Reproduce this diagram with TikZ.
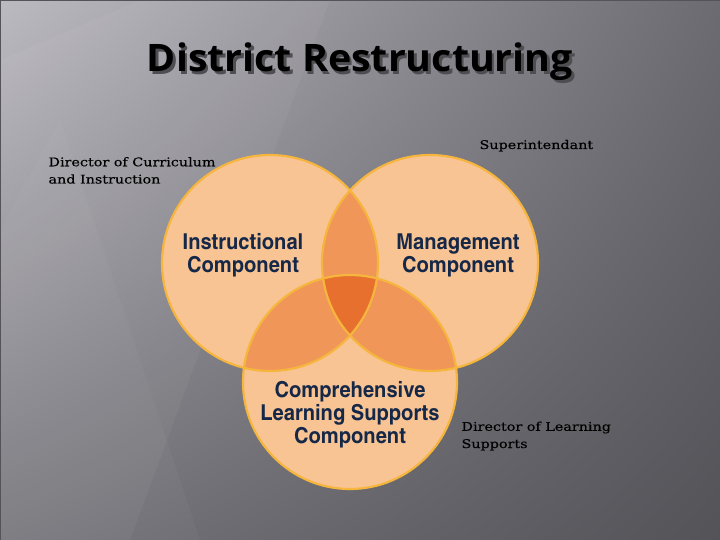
\documentclass[tikz,border=0pt]{standalone}
\usepackage{fontspec}
\setmainfont{Liberation Serif}
\newfontfamily\titlefont[FakeStretch=1.04]{Open Sans}
\newfontfamily\compfont[FakeStretch=1.12]{texgyreheroscn-bold.otf}
\newfontfamily\labelfont[FakeStretch=1.2,FakeBold=0.4]{DejaVu Serif}
\usepackage{tikz}
\usetikzlibrary{shadings}

\definecolor{bgA}{RGB}{188,186,193}
\definecolor{bgB}{RGB}{108,107,113}
\definecolor{bgC}{RGB}{118,117,123}
\definecolor{bgD}{RGB}{84,83,88}
\definecolor{peach}{RGB}{248,196,148}
\definecolor{lens}{RGB}{240,150,88}
\definecolor{core}{RGB}{232,112,46}
\definecolor{rim}{RGB}{246,182,62}
\definecolor{navy}{RGB}{22,40,72}
\definecolor{dropgray}{RGB}{78,78,82}

\newcommand{\dropped}[1]{\makebox[0pt][l]{\hspace{2.5bp}\raisebox{-2.8bp}{\color{dropgray}#1}}#1}

\tikzset{
  comp/.style={text=navy,align=center,font=\compfont\fontsize{22}{23}\selectfont},
  who/.style={text=black,align=left,anchor=base west,font=\labelfont\fontsize{12}{17.3}\selectfont},
  rimline/.style={draw=rim,line width=2.2bp}
}

\begin{document}
\begin{tikzpicture}[x=1bp,y=-1bp]
        \useasboundingbox (0,0) rectangle (720,540);
        % background
        \shade[upper left=bgA,upper right=bgB,lower left=bgC,lower right=bgD] (0,0) rectangle (720,540);
        \fill[white,opacity=0.04] (0,60) -- (140,0) -- (330,0) -- (130,540) -- (0,540) -- cycle;
        \fill[white,opacity=0.03] (0,230) -- (60,120) -- (200,540) -- (0,540) -- cycle;
        \draw[bgD,line width=2bp] (0,540) -- (0,0) -- (720,0);

        % title
        \node[text=black,anchor=base,font=\titlefont\bfseries\fontsize{38}{42}\selectfont] (title) at (360,71.7) {\dropped{District Restructuring}};

        % circles
        \coordinate (instr) at (270,263);
        \coordinate (manag) at (430,263);
        \coordinate (learn) at (350,382);

        \fill[peach] (instr) circle[radius=108];
        \fill[peach] (manag) circle[radius=108];
        \fill[peach] (learn) circle[radius=107];
        \begin{scope}
          \clip (instr) circle[radius=108];
          \fill[lens] (manag) circle[radius=108];
          \fill[lens] (learn) circle[radius=107];
        \end{scope}
        \begin{scope}
          \clip (manag) circle[radius=108];
          \fill[lens] (learn) circle[radius=107];
          \clip (learn) circle[radius=107];
          \fill[core] (instr) circle[radius=108];
        \end{scope}
        \draw[rimline] (instr) circle[radius=108];
        \draw[rimline] (manag) circle[radius=108];
        \draw[rimline] (learn) circle[radius=107];

        % components
        \node[comp] (instrtext) at (243,255) {Instructional\\Component};
        \node[comp] (managtext) at (458,255) {Management\\Component};
        \node[comp] (learntext) at (350,415) {Comprehensive\\Learning Supports\\Component};

        % people
        \node[who] (curric) at (45,183.5) {Director of Curriculum\\and Instruction};
        \node[who] (super) at (476,149) {Superintendant};
        \node[who] (dirls) at (458,448) {Director of Learning\\Supports};
\end{tikzpicture}
\end{document}
